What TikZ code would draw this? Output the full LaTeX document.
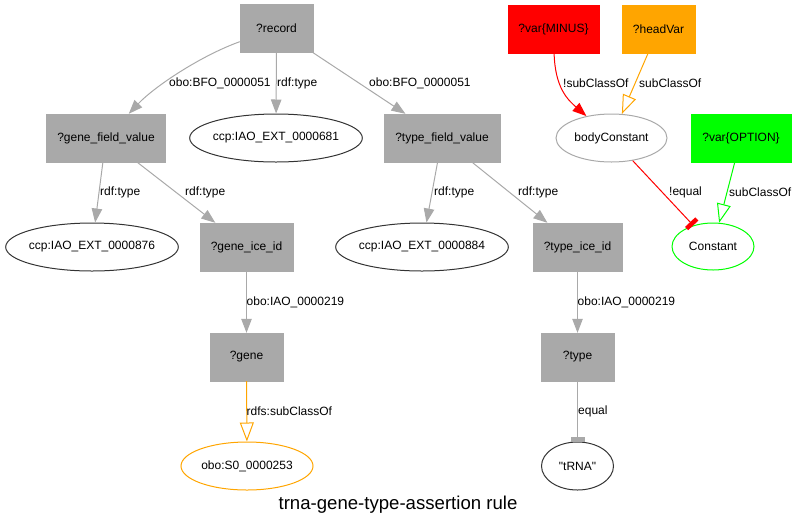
\documentclass[tikz,border=0pt]{standalone}
\usepackage{fontspec}
\setmainfont{Liberation Sans}[Ligatures=TeXOff]
\usepackage{tikz}
\usetikzlibrary{shapes,arrows.meta,positioning}
\definecolor{varcolor}{RGB}{169,169,169}
\definecolor{minuscolor}{RGB}{255,0,0}
\definecolor{headcolor}{RGB}{255,165,0}
\definecolor{optioncolor}{RGB}{0,255,0}
\definecolor{litcolor}{RGB}{51,51,51}

\begin{document}
\begin{tikzpicture}[x=1pt, y=-1pt,
    every node/.style={font=\fontsize{12}{14}\selectfont},
    varbox/.style={rectangle, fill=varcolor, draw=varcolor, inner sep=0pt, minimum height=48pt},
    oval/.style={ellipse, draw=litcolor, line width=1pt, inner xsep=-2pt, inner ysep=0pt, minimum height=48pt},
    elabel/.style={anchor=west, inner sep=0pt},
    gline/.style={draw=varcolor, line width=1pt, -{Triangle[length=14pt,width=10.5pt]}},
    subline/.style={line width=1pt, -{Triangle[open,length=19pt,width=14pt]}},
    teeline/.style={line width=1pt, -{Rectangle[length=4.5pt,width=14pt]}}]
    \useasboundingbox (0,0) rectangle (797,528);

    \node[varbox, minimum width=73pt] (record) at (276.5,28.5) {?record};
    \node[varbox, minimum width=119pt] (genefield) at (106,138) {?gene\_field\_value};
    \node[oval, minimum width=172pt] (ext681) at (276,138) {ccp:IAO\_EXT\_0000681};
    \node[varbox, minimum width=116pt] (typefield) at (442,138) {?type\_field\_value};
    \node[oval, minimum width=172pt] (ext876) at (92,247) {ccp:IAO\_EXT\_0000876};
    \node[varbox, minimum width=93pt] (geneice) at (246.5,247) {?gene\_ice\_id};
    \node[oval, minimum width=172pt] (ext884) at (422,247) {ccp:IAO\_EXT\_0000884};
    \node[varbox, minimum width=89pt] (typeice) at (577.5,247) {?type\_ice\_id};
    \node[varbox, minimum width=73pt] (gene) at (246.5,357) {?gene};
    \node[varbox, minimum width=73pt] (type) at (577.5,357) {?type};
    \node[oval, draw=headcolor, minimum width=132pt] (so) at (247,466) {obo:S0\_0000253};
    \node[oval, minimum width=72pt] (trna) at (577.5,466) {"tRNA"};

    \node[varbox, fill=minuscolor, draw=minuscolor, minimum width=91pt] (minus) at (553.5,29) {?var\{MINUS\}};
    \node[varbox, fill=headcolor, draw=headcolor, minimum width=73pt] (headvar) at (658.5,29) {?headVar};
    \node[oval, draw=varcolor, minimum width=111pt] (body) at (611.5,138) {bodyConstant};
    \node[varbox, fill=optioncolor, draw=optioncolor, minimum width=100pt] (option) at (741,138) {?var\{OPTION\}};
    \node[oval, draw=optioncolor, minimum width=82pt, minimum height=47pt] (constant) at (713,246.5) {Constant};

    \draw[gline] (record) .. controls (200,56) and (154,87) .. (genefield);
    \draw[gline] (record) -- (ext681);
    \draw[gline] (record) -- (typefield);
    \draw[gline] (genefield) -- (ext876);
    \draw[gline] (genefield) -- (geneice);
    \draw[gline] (typefield) -- (ext884);
    \draw[gline] (typefield) -- (typeice);
    \draw[gline] (geneice) -- (gene);
    \draw[gline] (typeice) -- (type);
    \draw[subline, draw=headcolor] (gene) -- (so);
    \draw[teeline, draw=varcolor] (type) -- (trna);
    \draw[line width=1pt, draw=minuscolor, -{Triangle[length=14pt,width=10.5pt]}]
        (minus) .. controls (555,88) and (568,100) .. (body);
    \draw[subline, draw=headcolor] (headvar) -- (body);
    \draw[teeline, draw=minuscolor] (body) -- (constant);
    \draw[subline, draw=optioncolor] (option) -- (constant);

    \node[elabel] (l-rec-gene) at (169,83) {obo:BFO\_0000051};
    \node[elabel] (l-rec-ext) at (277,83) {rdf:type};
    \node[elabel] (l-rec-type) at (369,83) {obo:BFO\_0000051};
    \node[elabel] (l-minus) at (563,83) {!subClassOf};
    \node[elabel] (l-head) at (639,83) {subClassOf};
    \node[elabel] (l-gene-ext) at (100,192) {rdf:type};
    \node[elabel] (l-gene-ice) at (185,192) {rdf:type};
    \node[elabel] (l-type-ext) at (434,192) {rdf:type};
    \node[elabel] (l-type-ice) at (518,192) {rdf:type};
    \node[elabel] (l-equal) at (669,192) {!equal};
    \node[elabel] (l-option) at (729,192) {subClassOf};
    \node[elabel] (l-gene-iao) at (246.5,302) {obo:IAO\_0000219};
    \node[elabel] (l-type-iao) at (577.5,302) {obo:IAO\_0000219};
    \node[elabel] (l-gene-sub) at (246.5,411) {rdfs:subClassOf};
    \node[elabel] (l-type-eq) at (578,411) {equal};

    \node[font=\fontsize{18.6}{22}\selectfont] (title) at (398,505) {trna-gene-type-assertion rule};
\end{tikzpicture}
\end{document}
